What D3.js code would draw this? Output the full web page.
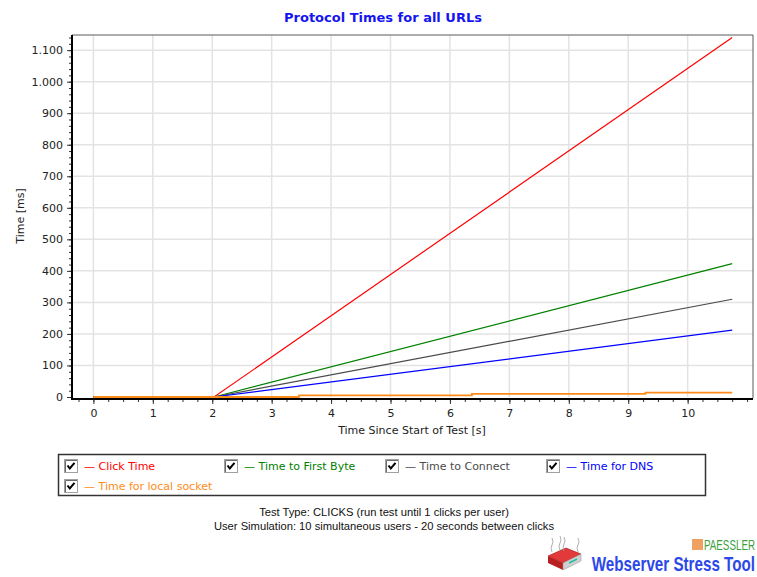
<!DOCTYPE html>
<html>
<head>
<meta charset="utf-8">
<script src="https://cdn.jsdelivr.net/npm/d3@7"></script>
<style>
  body { margin: 0; background: #fff; }
  svg { display: block; }
</style>
</head>
<body>
<script>
// series data
var timeS = [0, 2.03, 10.75];
var clickTime = [0, 0, 1140];
var firstByte = [0, 0, 423];
var connectTime = [0, 0, 310];
var dnsTime = [0, 0, 212];
var socketTimeS = [0, 3.46, 6.37, 9.29, 10.75];
var socketValues = [0, 5, 10, 14, 14];

var seriesNames = ["Click Time", "Time to First Byte", "Time to Connect", "Time for DNS", "Time for local socket"];
var seriesColors = ["#ff0000", "#008000", "#4a4a4a", "#0000ff", "#ff8c1a"];
var xTicks = [0, 1, 2, 3, 4, 5, 6, 7, 8, 9, 10];
var yTicks = [0, 100, 200, 300, 400, 500, 600, 700, 800, 900, 1000, 1100];

var W = 757, H = 577;
var pLeft = 72, pRight = 753, pTop = 35, pBottom = 397;

var svg = d3.select("body").append("svg")
  .attr("width", W)
  .attr("height", H);

var x = d3.scaleLinear().domain([-0.36, 11.1]).range([pLeft, pRight]);
var y = d3.scaleLinear().domain([0, 1148]).range([pBottom, pTop]);

// title
svg.append("text")
  .attr("x", 383).attr("y", 22)
  .attr("text-anchor", "middle")
  .style("font-family", "DejaVu Sans")
  .style("font-weight", "bold")
  .style("font-size", "13px")
  .style("fill", "#1515f0")
  .text("Protocol Times for all URLs");

// grid
var grid = svg.append("g");
grid.selectAll("line.gx").data(xTicks).enter().append("line")
  .attr("x1", function (d) { return x(d); })
  .attr("x2", function (d) { return x(d); })
  .attr("y1", pTop).attr("y2", pBottom)
  .attr("stroke", "#e3e3e3").attr("stroke-width", 1.5);
grid.selectAll("line.gy").data(yTicks.slice(1)).enter().append("line")
  .attr("y1", function (d) { return y(d); })
  .attr("y2", function (d) { return y(d); })
  .attr("x1", pLeft).attr("x2", pRight)
  .attr("stroke", "#e3e3e3").attr("stroke-width", 1.5);

// frame top and right
svg.append("path")
  .attr("d", "M" + pLeft + "," + pTop + "H" + pRight + "V" + (pBottom + 1))
  .attr("fill", "none").attr("stroke", "#5a5a5a").attr("stroke-width", 1);

// axes (axis line sits just below the zero value)
var axisY = pBottom + 2;
var yMinor = d3.range(0, 1141, 20);
var xMinor = d3.range(-0.25, 11.01, 0.25);

var yAxisMinor = svg.append("g")
  .attr("transform", "translate(" + pLeft + ",0)")
  .call(d3.axisLeft(y).tickValues(yMinor).tickSize(3).tickFormat(""));
var yAxis = svg.append("g")
  .attr("transform", "translate(" + pLeft + ",0)")
  .call(d3.axisLeft(y).tickValues(yTicks).tickSize(5).tickPadding(4)
    .tickFormat(function (d) { return d3.format(",")(d).replace(",", "."); }));
var xAxisMinor = svg.append("g")
  .attr("transform", "translate(0," + axisY + ")")
  .call(d3.axisBottom(x).tickValues(xMinor).tickSize(3).tickFormat(""));
var xAxis = svg.append("g")
  .attr("transform", "translate(0," + axisY + ")")
  .call(d3.axisBottom(x).tickValues(xTicks).tickSize(5).tickPadding(5));

[yAxisMinor, yAxis, xAxisMinor, xAxis].forEach(function (a) {
  a.select(".domain").remove();
  a.selectAll("line").attr("stroke", "#333");
  a.selectAll("text")
    .style("font-family", "DejaVu Sans")
    .style("font-size", "11px")
    .attr("fill", "#222");
});

// left and bottom axis lines
svg.append("path")
  .attr("d", "M" + pLeft + "," + pTop + "V" + axisY + "H" + pRight)
  .attr("fill", "none").attr("stroke", "#000").attr("stroke-width", 2);

// series lines
var lineGen = d3.line()
  .x(function (d) { return x(d[0]); })
  .y(function (d) { return y(d[1]); });
var stepGen = d3.line()
  .x(function (d) { return x(d[0]); })
  .y(function (d) { return y(d[1]); })
  .curve(d3.curveStepAfter);

var lineSeries = [clickTime, firstByte, connectTime, dnsTime];
var plot = svg.append("g");
lineSeries.forEach(function (vals, i) {
  plot.append("path")
    .datum(d3.zip(timeS, vals))
    .attr("d", lineGen)
    .attr("fill", "none")
    .attr("stroke", seriesColors[i])
    .attr("stroke-width", 1.2);
});
plot.append("path")
  .datum(d3.zip(socketTimeS, socketValues))
  .attr("d", stepGen)
  .attr("fill", "none")
  .attr("stroke", seriesColors[4])
  .attr("stroke-width", 1.8);

// axis titles
svg.append("text")
  .attr("x", 412).attr("y", 434)
  .attr("text-anchor", "middle")
  .style("font-family", "DejaVu Sans").style("font-size", "11px")
  .attr("fill", "#222")
  .text("Time Since Start of Test [s]");
svg.append("text")
  .attr("transform", "translate(24,216) rotate(-90)")
  .attr("text-anchor", "middle")
  .style("font-family", "DejaVu Sans").style("font-size", "11px")
  .attr("fill", "#222")
  .text("Time [ms]");

// legend
var legend = svg.append("g");
legend.append("rect")
  .attr("x", 58.5).attr("y", 454.5).attr("width", 647).attr("height", 41)
  .attr("fill", "#fff").attr("stroke", "#333").attr("stroke-width", 1.5);

var legendPos = [[64, 459], [224, 459], [385, 459], [546, 459], [64, 479]];
seriesNames.forEach(function (name, i) {
  var g = legend.append("g")
    .attr("transform", "translate(" + legendPos[i][0] + "," + legendPos[i][1] + ")");
  g.append("rect").attr("x", 0.5).attr("y", 0.5).attr("width", 13).attr("height", 13)
    .attr("fill", "#fff").attr("stroke", "#a0a0a0");
  g.append("path").attr("d", "M1.5,13V1.5H13").attr("fill", "none").attr("stroke", "#6a6a6a");
  g.append("path").attr("d", "M3.5,6.5L5.8,9.5L10.5,3.8")
    .attr("fill", "none").attr("stroke", "#000").attr("stroke-width", 2);
  g.append("text")
    .attr("x", 20).attr("y", 11)
    .style("font-family", "DejaVu Sans").style("font-size", "11px")
    .attr("fill", seriesColors[i])
    .text("\u2014 " + name);
});

// footer
var footer = ["Test Type: CLICKS (run test until 1 clicks per user)",
  "User Simulation: 10 simultaneous users - 20 seconds between clicks"];
svg.selectAll("text.foot").data(footer).enter().append("text")
  .attr("x", 384)
  .attr("y", function (d, i) { return 516 + i * 14; })
  .attr("text-anchor", "middle")
  .style("font-family", "Liberation Sans").style("font-size", "11.2px")
  .attr("fill", "#111")
  .text(function (d) { return d; });

// logo
var logo = svg.append("g");
logo.append("polygon").attr("points", "548,556 566,548 581,554 563,563")
  .attr("fill", "#e23a3a").attr("stroke", "#a01010").attr("stroke-width", 0.6);
logo.append("polygon").attr("points", "548,556 563,563 563,570 548,563")
  .attr("fill", "#b82020");
logo.append("polygon").attr("points", "563,563 581,554 581,561 563,570")
  .attr("fill", "#d0d0d0").attr("stroke", "#909090").attr("stroke-width", 0.5);
logo.append("line").attr("x1", 569).attr("y1", 563).attr("x2", 577).attr("y2", 559)
  .attr("stroke", "#20c0a0").attr("stroke-width", 1.5);
[[552, 538], [560, 536], [564, 537], [578, 538]].forEach(function (p) {
  logo.append("path")
    .attr("d", "M" + p[0] + "," + (p[1] + 14) + "q-2,-4 0,-7q2,-3 0,-7")
    .attr("fill", "none").attr("stroke", "#999").attr("stroke-width", 0.8);
});
logo.append("rect").attr("x", 692).attr("y", 539).attr("width", 11).attr("height", 11)
  .attr("fill", "#f0a060");
logo.append("text")
  .attr("transform", "translate(755,550) scale(0.7,1)")
  .attr("text-anchor", "end")
  .style("font-family", "Liberation Sans").style("font-size", "14px")
  .attr("fill", "#3aa040")
  .text("PAESSLER");
logo.append("text")
  .attr("transform", "translate(755,571) scale(0.76,1)")
  .attr("text-anchor", "end")
  .style("font-family", "Liberation Sans").style("font-size", "20px")
  .style("font-weight", "bold")
  .attr("fill", "#2c48e8")
  .text("Webserver Stress Tool");
</script>
</body>
</html>
